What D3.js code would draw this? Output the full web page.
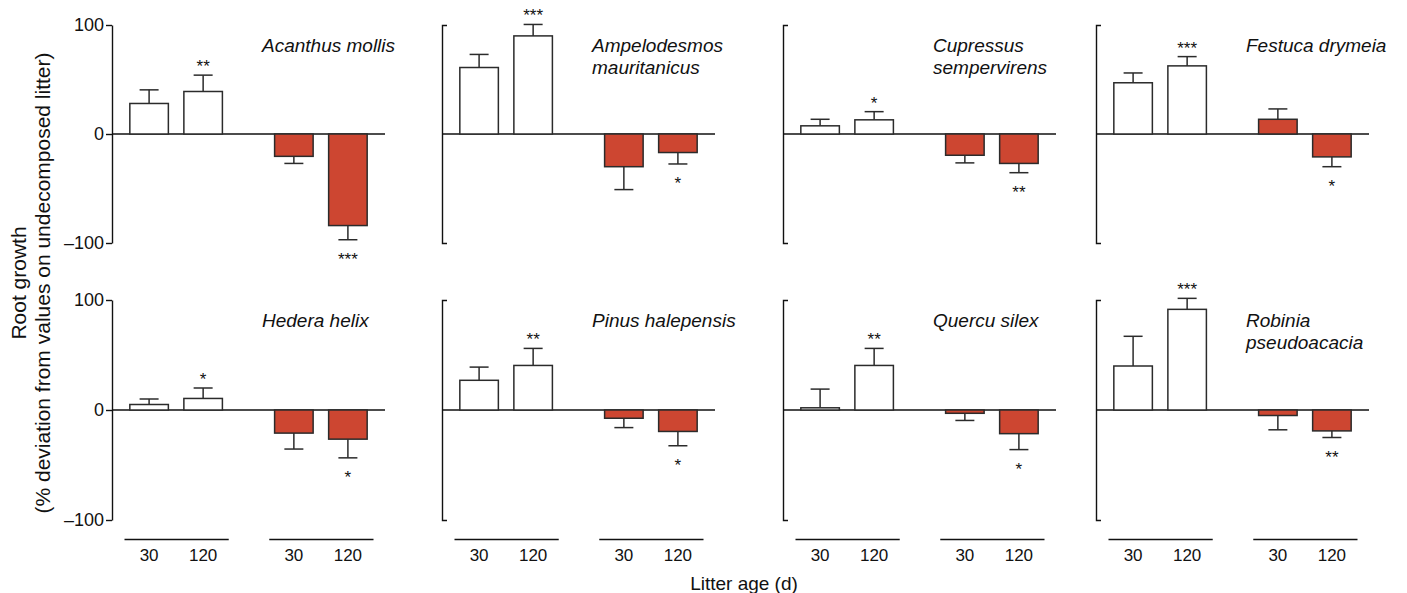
<!DOCTYPE html>
<html>
<head>
<meta charset="utf-8">
<script src="https://cdn.jsdelivr.net/npm/d3@7"></script>
<style>
body{margin:0;background:#fff;}
text{font-family:"Liberation Sans",Arial,sans-serif;fill:#111;}
</style>
</head>
<body>
<div id="plot"></div>
<script>
// data
var species = ["Acanthus mollis","Ampelodesmos mauritanicus","Cupressus sempervirens","Festuca drymeia",
               "Hedera helix","Pinus halepensis","Quercu silex","Robinia pseudoacacia"];
var wrapped = ["Ampelodesmos mauritanicus","Cupressus sempervirens","Robinia pseudoacacia"];
var ages = ["30","120"];
var groups = ["white","red"];

var white30     = [28, 61, 7.5, 47, 5, 27, 2, 40];
var white30Err  = [12.5, 12, 6, 9, 5, 12, 17, 27];
var white120    = [39, 90, 13, 62.5, 10.5, 40.5, 40.5, 91.5];
var white120Err = [15, 10.5, 7.5, 8.5, 9.5, 15.5, 15.5, 10];
var red30       = [-20.5, -30, -19.5, 13.5, -21, -7.5, -3, -5];
var red30Err    = [6.5, 21, 7, 9.5, 14.5, 8.5, 6.5, 13];
var red120      = [-84, -17, -27, -21, -26.5, -19.5, -21.5, -19];
var red120Err   = [13, 10.5, 8.5, 9, 17, 13, 14.5, 6];
var white120Sig = ["**","***","*","***","*","**","**","***"];
var red120Sig   = ["***","*","**","*","*","*","*","**"];

var yTicks = [-100, 0, 100];

// layout
var colX = [112, 442, 783, 1096];
var rowRange = [[243,25],[520,300]];
var panelW = 273;
var xAxisY = 539;
var redFill = "#cd4631", edge = "#2b2b2b";

var svg = d3.select('#plot').append('svg')
    .attr('width',1407)
    .attr('height',593);

var xGroup = d3.scaleBand().domain(groups).range([12,261]).paddingInner(0.28);
var xAge = d3.scaleBand().domain(ages).range([0,xGroup.bandwidth()]).paddingInner(0.287).paddingOuter(0.108);

species.forEach(function(name,i){
    var row = Math.floor(i/4), col = i%4;
    var g = svg.append('g').attr('transform','translate('+colX[col]+',0)');
    var y = d3.scaleLinear().domain([-100,100]).range(rowRange[row]);

    var bars = [
        {group:"white", age:"30",  v:white30[i],  e:white30Err[i],  sig:""},
        {group:"white", age:"120", v:white120[i], e:white120Err[i], sig:white120Sig[i]},
        {group:"red",   age:"30",  v:red30[i],    e:red30Err[i],    sig:""},
        {group:"red",   age:"120", v:red120[i],   e:red120Err[i],   sig:red120Sig[i]}
    ];

    // y axis
    var ax;
    if (col==0) {
        ax = d3.axisLeft(y).tickValues(yTicks).tickSize(6).tickSizeOuter(0).tickPadding(2)
            .tickFormat(function(d){ return d<0 ? "\u2013"+Math.abs(d) : d; });
    } else {
        ax = d3.axisLeft(y).tickValues([]).tickSizeOuter(-5);
    }
    var yg = g.append('g').call(ax);
    yg.selectAll('path,line').attr('stroke','#111').attr('stroke-width',1.4);
    yg.selectAll('text').attr('font-size','18px').attr('font-family',null);

    // zero line
    g.append('line')
        .attr('x1',0).attr('x2',panelW)
        .attr('y1',y(0)).attr('y2',y(0))
        .attr('stroke','#111').attr('stroke-width',1.5);

    var cx = function(d){ return xGroup(d.group)+xAge(d.age)+xAge.bandwidth()/2; };
    var tip = function(d){ return d.v>=0 ? d.v+d.e : d.v-d.e; };

    // error bars
    g.selectAll('.err').data(bars).enter().append('line')
        .attr('x1',cx).attr('x2',cx)
        .attr('y1',function(d){ return y(d.v); })
        .attr('y2',function(d){ return y(tip(d)); })
        .attr('stroke',edge).attr('stroke-width',1.5);
    g.selectAll('.cap').data(bars).enter().append('line')
        .attr('x1',function(d){ return cx(d)-9.5; })
        .attr('x2',function(d){ return cx(d)+9.5; })
        .attr('y1',function(d){ return y(tip(d)); })
        .attr('y2',function(d){ return y(tip(d)); })
        .attr('stroke',edge).attr('stroke-width',1.5);

    // bars
    g.selectAll('.bar').data(bars).enter().append('rect')
        .attr('x',function(d){ return xGroup(d.group)+xAge(d.age); })
        .attr('width',xAge.bandwidth())
        .attr('y',function(d){ return y(Math.max(d.v,0)); })
        .attr('height',function(d){ return Math.abs(y(d.v)-y(0)); })
        .style('fill',function(d){ return d.group=="red" ? redFill : "#fff"; })
        .attr('stroke',edge).attr('stroke-width',1.5);

    // significance stars
    g.selectAll('.sig').data(bars).enter().append('text')
        .attr('x',cx)
        .attr('y',function(d){ return d.v>=0 ? y(tip(d))-3 : y(tip(d))+25; })
        .attr('text-anchor','middle')
        .attr('font-size','17px')
        .text(function(d){ return d.sig; });

    // species label
    var lines = wrapped.indexOf(name)>=0 ? name.split(" ") : [name];
    var lab = g.append('text')
        .attr('x',150).attr('y',y(100)+27)
        .attr('font-size','19px').attr('font-style','italic');
    lines.forEach(function(t,k){
        lab.append('tspan').attr('x',150).attr('dy',k==0?0:22).text(t);
    });

    // x axis on bottom row
    if (row==1) {
        groups.forEach(function(grp){
            var xg = g.append('g')
                .attr('transform','translate('+xGroup(grp)+','+xAxisY+')')
                .call(d3.axisBottom(xAge).tickSize(0).tickSizeOuter(0).tickPadding(10));
            xg.select('.domain').attr('stroke','#111').attr('stroke-width',1.4);
            xg.selectAll('text').attr('font-size','17px').attr('font-family',null);
        });
    }
});

// axis titles
svg.append('text')
    .attr('transform','translate(26,283) rotate(-90)')
    .attr('text-anchor','middle').attr('font-size','21px')
    .text('Root growth');
svg.append('text')
    .attr('transform','translate(50,283) rotate(-90)')
    .attr('text-anchor','middle').attr('font-size','21px')
    .text('(% deviation from values on undecomposed litter)');
svg.append('text')
    .attr('x',744).attr('y',590)
    .attr('text-anchor','middle').attr('font-size','19px')
    .text('Litter age (d)');
</script>
</body>
</html>
